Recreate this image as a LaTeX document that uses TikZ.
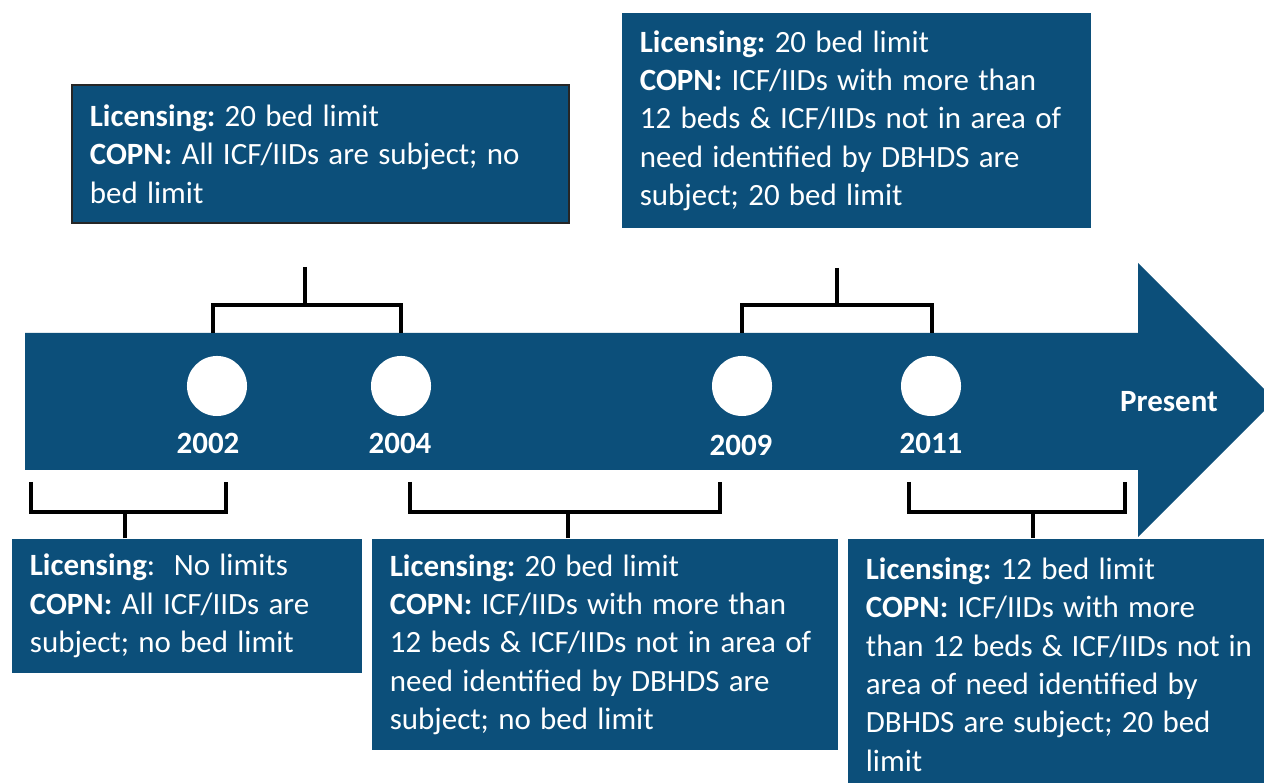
\documentclass[tikz,border=0pt]{standalone}
\usepackage{fontspec}
\setmainfont{Carlito}
\frenchspacing
\definecolor{tlblue}{RGB}{12,79,122}
\newcommand\tightspace{\spaceskip=0.3em plus 0.1em minus 0.06em\relax}
\begin{document}
\begin{tikzpicture}[x=0.01cm,y=-0.01cm,
  every node/.style={font=\fontsize{8.8}{10.9}\selectfont},
  infobox/.style={fill=tlblue,text=white,align=left,inner xsep=0.18cm,inner ysep=0pt,
    execute at begin node=\tightspace},
  yearlbl/.style={text=white,font=\fontsize{8.8}{10.9}\selectfont\bfseries},
  dot/.style={circle,fill=white,minimum size=0.6cm,inner sep=0pt},
  brk/.style={line width=1.1pt}]
\useasboundingbox (0,0) rectangle (1264,783);
% timeline band
\fill[tlblue] (25,333) -- (1138,333) -- (1138,263) -- (1275,400) -- (1138,537) -- (1138,470) -- (25,470) -- cycle;
\node[dot] (c02) at (217,386){};
\node[dot] (c04) at (401,386){};
\node[dot] (c09) at (742,386){};
\node[dot] (c11) at (931,386){};
\node[yearlbl] (y02) at (208,443){2002};
\node[yearlbl] (y04) at (400,443){2004};
\node[yearlbl] (y09) at (741,445){2009};
\node[yearlbl] (y11) at (931,443){2011};
\node[yearlbl] (pres) at (1169,402){Present};
% boxes
\node[infobox, draw=black!85, line width=0.5pt, text width=4.61cm, minimum height=1.38cm] (b0204) at (320.5,154){\textbf{Licensing:} 20 bed limit\\ \textbf{COPN:} All ICF/IIDs are subject; no\\ bed limit};
\node[infobox, text width=4.33cm, minimum height=2.15cm] (b0911) at (856.5,120.5){\textbf{Licensing:} 20 bed limit\\ \textbf{COPN:} ICF/IIDs with more than\\ 12 beds \& ICF/IIDs not in area of\\ need identified by DBHDS are\\ subject; 20 bed limit};
\node[infobox, text width=3.14cm, minimum height=1.34cm] (bpre) at (187,606){\textbf{Licensing}:\ \ No limits\\ \textbf{COPN:} All ICF/IIDs are\\ subject; no bed limit};
\node[infobox, text width=4.30cm, minimum height=2.11cm] (b0409) at (605,644.5){\textbf{Licensing:} 20 bed limit\\ \textbf{COPN:} ICF/IIDs with more than\\ 12 beds \& ICF/IIDs not in area of\\ need identified by DBHDS are\\ subject; no bed limit};
\node[infobox, text width=3.86cm, minimum height=2.51cm] (b11) at (1059,664.5){\textbf{Licensing:} 12 bed limit\\ \textbf{COPN:} ICF/IIDs with more\\ than 12 beds \& ICF/IIDs not in\\ area of need identified by\\ DBHDS are subject; 20 bed\\ limit};
% brackets above
\coordinate (t1) at (305,267);
\coordinate (t2) at (837,268);
\draw[brk] (213,333) -- (213,305) -- (401,305) -- (401,333);
\draw[brk] (t1) -- (t1 |- 0,305);
\draw[brk] (742,333) -- (742,305) -- (932,305) -- (932,333);
\draw[brk] (t2) -- (t2 |- 0,305);
% brackets below
\draw[brk] (31,482) -- (31,512) -- (226,512) -- (226,482);
\draw[brk] (bpre.north -| 125,0) -- (125,512);
\draw[brk] (410,482) -- (410,512) -- (720,512) -- (720,482);
\draw[brk] (b0409.north -| 568,0) -- (568,512);
\draw[brk] (909,482) -- (909,512) -- (1125,512) -- (1125,482);
\draw[brk] (b11.north -| 1033,0) -- (1033,512);
\end{tikzpicture}
\end{document}
